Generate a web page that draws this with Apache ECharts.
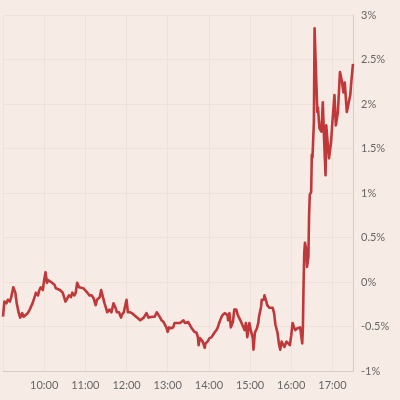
<!DOCTYPE html>
<html>
<head>
<meta charset="utf-8">
<script src="https://cdn.jsdelivr.net/npm/echarts@6/dist/echarts.min.js"></script>
<style>
html,body{margin:0;padding:0;background:#f7ebe5;}
#c{width:400px;height:400px;}
</style>
</head>
<body>
<div id="c"></div>
<script>
const times = ["9:00","9:02","9:05","9:07","9:10","9:12","9:15","9:18","9:20","9:23","9:25","9:28","9:30","9:33","9:36","9:39","9:41","9:43","9:46","9:48","9:51","9:53","9:55","9:58",
"10:00","10:02","10:04","10:06","10:10","10:12","10:15","10:17","10:19","10:23","10:27","10:29","10:31","10:34","10:36","10:39","10:41","10:44","10:46","10:48","10:51","10:53","10:57","10:59",
"11:03","11:06","11:09","11:12","11:15","11:17","11:21","11:23","11:25","11:28","11:32","11:35","11:38","11:41","11:44","11:46","11:49","11:52","11:53","11:56","11:58",
"12:00","12:02","12:05","12:08","12:10","12:14","12:16","12:20","12:22","12:25","12:27","12:29","12:32","12:34","12:38","12:41","12:44","12:46","12:49","12:51","12:54","12:56","12:58",
"13:00","13:02","13:05","13:08","13:10","13:13","13:15","13:18","13:20","13:23","13:25","13:27","13:30","13:32","13:35","13:37","13:39","13:42","13:44","13:45","13:47","13:49","13:51","13:54","13:55","13:58",
"14:01","14:04","14:08","14:11","14:13","14:15","14:18","14:20","14:23","14:24","14:27","14:28","14:30","14:32","14:35","14:37","14:40","14:42","14:44","14:47","14:49","14:52","14:54","14:56","14:59",
"15:01","15:04","15:05","15:07","15:10","15:12","15:13","15:16","15:17","15:20","15:21","15:23","15:25","15:28","15:30","15:33","15:35","15:37","15:40","15:42","15:44","15:46","15:48","15:50","15:53","15:55","15:58",
"16:00","16:02","16:04","16:06","16:09","16:11","16:13","16:15","16:16","16:17","16:18","16:19","16:20","16:22","16:23","16:25","16:26","16:27","16:29","16:30","16:31","16:33","16:34","16:36","16:38","16:39","16:41","16:44","16:46","16:48","16:50","16:51","16:53","16:55","16:58",
"17:00","17:03","17:05","17:08","17:11","17:14","17:16","17:18","17:21","17:23","17:26","17:28","17:30"];
const changePct = [-0.39,-0.22,-0.24,-0.20,-0.22,-0.17,-0.06,-0.12,-0.24,-0.35,-0.40,-0.35,-0.39,-0.37,-0.35,-0.31,-0.29,-0.24,-0.17,-0.12,-0.15,-0.09,-0.06,-0.09,
0.02,0.11,-0.01,0.02,0.00,-0.01,-0.03,-0.07,-0.06,-0.09,-0.12,-0.17,-0.22,-0.18,-0.15,-0.17,-0.12,-0.15,-0.12,-0.01,-0.06,-0.06,-0.07,-0.09,
-0.12,-0.15,-0.15,-0.18,-0.26,-0.20,-0.17,-0.09,-0.15,-0.24,-0.34,-0.31,-0.34,-0.24,-0.29,-0.34,-0.34,-0.40,-0.37,-0.34,-0.34,
-0.20,-0.34,-0.34,-0.35,-0.37,-0.39,-0.39,-0.43,-0.45,-0.40,-0.39,-0.35,-0.40,-0.40,-0.39,-0.39,-0.34,-0.35,-0.40,-0.43,-0.45,-0.46,-0.51,
-0.56,-0.51,-0.52,-0.51,-0.46,-0.46,-0.45,-0.46,-0.45,-0.43,-0.46,-0.46,-0.45,-0.48,-0.52,-0.54,-0.56,-0.57,-0.62,-0.71,-0.63,-0.63,-0.67,-0.74,-0.69,-0.67,
-0.63,-0.62,-0.57,-0.54,-0.51,-0.46,-0.40,-0.37,-0.35,-0.34,-0.37,-0.43,-0.35,-0.51,-0.45,-0.31,-0.31,-0.37,-0.40,-0.45,-0.46,-0.54,-0.46,-0.62,-0.46,
-0.54,-0.63,-0.76,-0.57,-0.52,-0.46,-0.39,-0.28,-0.20,-0.20,-0.15,-0.20,-0.26,-0.29,-0.31,-0.29,-0.35,-0.48,-0.57,-0.69,-0.76,-0.67,-0.65,-0.73,-0.67,-0.65,-0.71,
-0.60,-0.46,-0.51,-0.54,-0.52,-0.54,-0.51,-0.51,-0.69,-0.51,-0.01,0.33,0.44,0.36,0.17,0.28,0.75,0.98,1.01,1.43,1.40,1.80,2.85,2.87,1.91,1.96,1.73,1.69,2.02,1.58,1.20,1.76,1.76,1.39,1.57,
1.80,2.10,1.76,1.91,2.36,2.25,2.13,2.24,1.91,1.91,2.10,2.29,2.45];
const xTickHours = [10,11,12,13,14,15,16,17];

function toMin(s){const p=s.split(':');return (+p[0])*60+(+p[1]);}
const seriesData = times.map((t,i)=>[toMin(t), changePct[i]]);

const chart = echarts.init(document.getElementById('c'), null, {renderer:'canvas'});
const font = 'Lato, "Open Sans", sans-serif';
chart.setOption({
  backgroundColor:'#f7ebe5',
  animation:false,
  grid:{left:0,right:47,top:15,bottom:29,containLabel:false},
  xAxis:{
    type:'value', min:540, max:1050, interval:60,
    axisLine:{show:true,onZero:false,lineStyle:{color:'#d9cbc4',width:1}},
    axisTick:{show:false},
    splitLine:{show:true,lineStyle:{color:'#efe2d8',width:1}},
    axisLabel:{
      color:'#666', fontSize:11, fontFamily:font, margin:9,
      formatter:function(v){const h=Math.round(v/60);return xTickHours.indexOf(h)>=0&&v%60===0?h+':00':'';}
    }
  },
  yAxis:{
    type:'value', position:'right', min:-1, max:3, interval:0.5,
    axisLine:{show:true,lineStyle:{color:'#d9cbc4',width:1}},
    axisTick:{show:false},
    splitLine:{show:true,lineStyle:{color:'#efe2d8',width:1}},
    axisLabel:{color:'#666',fontSize:11,fontFamily:font,margin:8,
      formatter:function(v){return v+'%';}}
  },
  series:[{
    type:'line', data:seriesData, showSymbol:false, symbol:'none',
    lineStyle:{color:'#c0383a',width:2.6,join:'round'},
    z:3
  }]
});
</script>
</body>
</html>
